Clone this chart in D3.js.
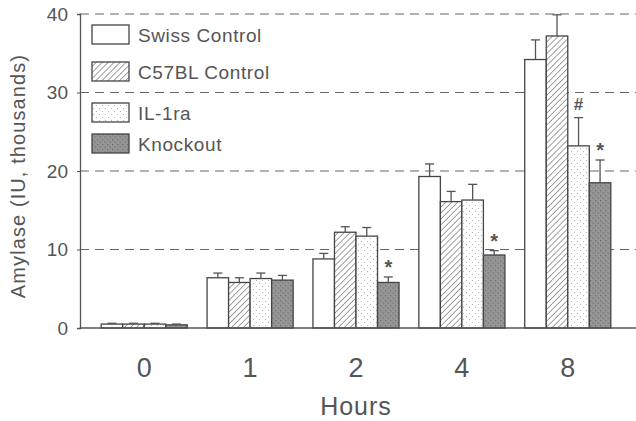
<!DOCTYPE html>
<html>
<head>
<meta charset="utf-8">
<script src="https://cdn.jsdelivr.net/npm/d3@7"></script>
<style>
  body { margin: 0; background: #fff; }
  text { font-family: "Liberation Sans", Arial, sans-serif; fill: #555; }
</style>
</head>
<body>
<div id="chart"></div>
<script>
const hours = ["0", "1", "2", "4", "8"];
const groups = ["Swiss Control", "C57BL Control", "IL-1ra", "Knockout"];
// mean amylase (IU, thousands) per hour, one array per group
const swiss    = [0.5, 6.4, 8.8, 19.3, 34.2];
const c57      = [0.5, 5.8, 12.2, 16.1, 37.2];
const il1ra    = [0.5, 6.3, 11.7, 16.3, 23.2];
const knockout = [0.4, 6.1, 5.8, 9.3, 18.5];
// top of error bar
const swissErr    = [0.6, 7.0, 9.5, 20.9, 36.7];
const c57Err      = [0.6, 6.4, 12.9, 17.4, 39.9];
const il1raErr    = [0.6, 7.0, 12.8, 18.3, 26.8];
const knockoutErr = [0.5, 6.7, 6.5, 9.85, 21.4];
// significance marks: [hour, group, symbol]
const marks = [["2", "Knockout", "*"], ["4", "Knockout", "*"], ["8", "IL-1ra", "#"], ["8", "Knockout", "*"]];
const yTicks = [0, 10, 20, 30, 40];

const width = 636, height = 421;
const margin = { top: 14, right: 4, bottom: 93, left: 80 };

const svg = d3.select("#chart").append("svg")
  .attr("width", width)
  .attr("height", height);

// patterns for fills
const defs = svg.append("defs");
const hatch = defs.append("pattern")
  .attr("id", "hatch")
  .attr("patternUnits", "userSpaceOnUse")
  .attr("width", 4.2).attr("height", 4.2)
  .attr("patternTransform", "rotate(45)");
hatch.append("rect").attr("width", 4.2).attr("height", 4.2).attr("fill", "#fff");
hatch.append("line").attr("x1", 0).attr("y1", 0).attr("x2", 0).attr("y2", 4.2)
  .attr("stroke", "#555").attr("stroke-width", 1.1);

const dots = defs.append("pattern")
  .attr("id", "dots")
  .attr("patternUnits", "userSpaceOnUse")
  .attr("width", 6).attr("height", 6);
dots.append("rect").attr("width", 6).attr("height", 6).attr("fill", "#fff");
dots.append("circle").attr("cx", 1.5).attr("cy", 1.5).attr("r", 0.6).attr("fill", "#aaa");
dots.append("circle").attr("cx", 4.5).attr("cy", 4.5).attr("r", 0.6).attr("fill", "#aaa");

const grain = defs.append("pattern")
  .attr("id", "grain")
  .attr("patternUnits", "userSpaceOnUse")
  .attr("width", 5).attr("height", 5);
grain.append("rect").attr("width", 5).attr("height", 5).attr("fill", "#939393");
grain.append("rect").attr("x", 0).attr("y", 0).attr("width", 1.2).attr("height", 1.2).attr("fill", "#6f6f6f");
grain.append("rect").attr("x", 2.6).attr("y", 2.4).attr("width", 1.2).attr("height", 1.2).attr("fill", "#777");
grain.append("rect").attr("x", 3.6).attr("y", 0.6).attr("width", 1).attr("height", 1).attr("fill", "#a8a8a8");
grain.append("rect").attr("x", 1).attr("y", 3.6).attr("width", 1).attr("height", 1).attr("fill", "#a3a3a3");

const fills = {
  "Swiss Control": "#fff",
  "C57BL Control": "url(#hatch)",
  "IL-1ra": "url(#dots)",
  "Knockout": "url(#grain)"
};

const x = d3.scaleBand()
  .domain(hours)
  .range([margin.left, 632])
  .paddingInner(0.187)
  .paddingOuter(0.2);

const xs = d3.scaleBand()
  .domain(groups)
  .range([0, x.bandwidth()]);

const y = d3.scaleLinear()
  .domain([0, 40])
  .range([height - margin.bottom, margin.top]);

const data = [];
hours.forEach((h, i) => {
  data.push({ hour: h, group: "Swiss Control", value: swiss[i], err: swissErr[i] });
  data.push({ hour: h, group: "C57BL Control", value: c57[i], err: c57Err[i] });
  data.push({ hour: h, group: "IL-1ra", value: il1ra[i], err: il1raErr[i] });
  data.push({ hour: h, group: "Knockout", value: knockout[i], err: knockoutErr[i] });
});

// dashed grid
svg.append("g")
  .selectAll("line")
  .data(yTicks.filter(d => d > 0))
  .join("line")
  .attr("x1", margin.left)
  .attr("x2", width)
  .attr("y1", d => y(d))
  .attr("y2", d => y(d))
  .attr("stroke", "#666")
  .attr("stroke-width", 1.2)
  .attr("stroke-dasharray", "9,6");

// y axis
const yAxis = svg.append("g")
  .attr("transform", `translate(${margin.left},0)`)
  .call(d3.axisLeft(y).tickValues(yTicks).tickSize(3).tickPadding(9));
yAxis.select(".domain").attr("stroke", "#555").attr("stroke-width", 1.3);
yAxis.selectAll(".tick line").attr("stroke", "#555");
yAxis.selectAll(".tick text")
  .attr("font-size", 19)
  .attr("fill", "#555")
  .attr("font-family", "Liberation Sans, Arial, sans-serif");

// bars
svg.append("g")
  .selectAll("rect")
  .data(data)
  .join("rect")
  .attr("x", d => x(d.hour) + xs(d.group))
  .attr("y", d => y(d.value))
  .attr("width", xs.bandwidth())
  .attr("height", d => y(0) - y(d.value))
  .attr("fill", d => fills[d.group])
  .attr("stroke", "#444")
  .attr("stroke-width", 1.3);

// error bars
const err = svg.append("g").attr("stroke", "#555").attr("stroke-width", 1.3);
err.selectAll("line.v")
  .data(data)
  .join("line")
  .attr("class", "v")
  .attr("x1", d => x(d.hour) + xs(d.group) + xs.bandwidth() / 2)
  .attr("x2", d => x(d.hour) + xs(d.group) + xs.bandwidth() / 2)
  .attr("y1", d => y(d.value))
  .attr("y2", d => y(d.err));
err.selectAll("line.c")
  .data(data)
  .join("line")
  .attr("class", "c")
  .attr("x1", d => x(d.hour) + xs(d.group) + xs.bandwidth() / 2 - 4.5)
  .attr("x2", d => x(d.hour) + xs(d.group) + xs.bandwidth() / 2 + 4.5)
  .attr("y1", d => y(d.err))
  .attr("y2", d => y(d.err));

// significance marks
svg.append("g")
  .selectAll("text")
  .data(marks)
  .join("text")
  .attr("x", d => x(d[0]) + xs(d[1]) + xs.bandwidth() / 2)
  .attr("y", d => {
    const row = data.find(r => r.hour === d[0] && r.group === d[1]);
    return y(row.err) - (d[2] === "#" ? 8 : 3);
  })
  .attr("text-anchor", "middle")
  .attr("font-size", d => d[2] === "#" ? 17 : 20)
  .attr("font-weight", "bold")
  .attr("fill", "#555")
  .text(d => d[2]);

// x axis baseline
svg.append("line")
  .attr("x1", margin.left).attr("x2", width)
  .attr("y1", y(0)).attr("y2", y(0))
  .attr("stroke", "#555").attr("stroke-width", 1.3);

// x tick labels
svg.append("g")
  .selectAll("text")
  .data(hours)
  .join("text")
  .attr("x", d => x(d) + x.bandwidth() / 2)
  .attr("y", 377)
  .attr("text-anchor", "middle")
  .attr("font-size", 27)
  .text(d => d);

// axis titles
svg.append("text")
  .attr("x", 356)
  .attr("y", 415)
  .attr("text-anchor", "middle")
  .attr("font-size", 25)
  .attr("letter-spacing", 1)
  .text("Hours");

svg.append("text")
  .attr("transform", "translate(25,176) rotate(-90)")
  .attr("text-anchor", "middle")
  .attr("font-size", 20)
  .attr("letter-spacing", 1.1)
  .text("Amylase (IU, thousands)");

// legend
const legendY = [35, 72, 113, 144];
const legend = svg.append("g")
  .selectAll("g")
  .data(groups)
  .join("g")
  .attr("transform", (d, i) => `translate(92,${legendY[i]})`);
legend.append("rect")
  .attr("x", 0).attr("y", -10)
  .attr("width", 37).attr("height", 19)
  .attr("fill", d => fills[d])
  .attr("stroke", "#444")
  .attr("stroke-width", 1.3);
legend.append("text")
  .attr("x", 46).attr("y", 7)
  .attr("font-size", 19)
  .attr("letter-spacing", 0.6)
  .text(d => d);
</script>
</body>
</html>
